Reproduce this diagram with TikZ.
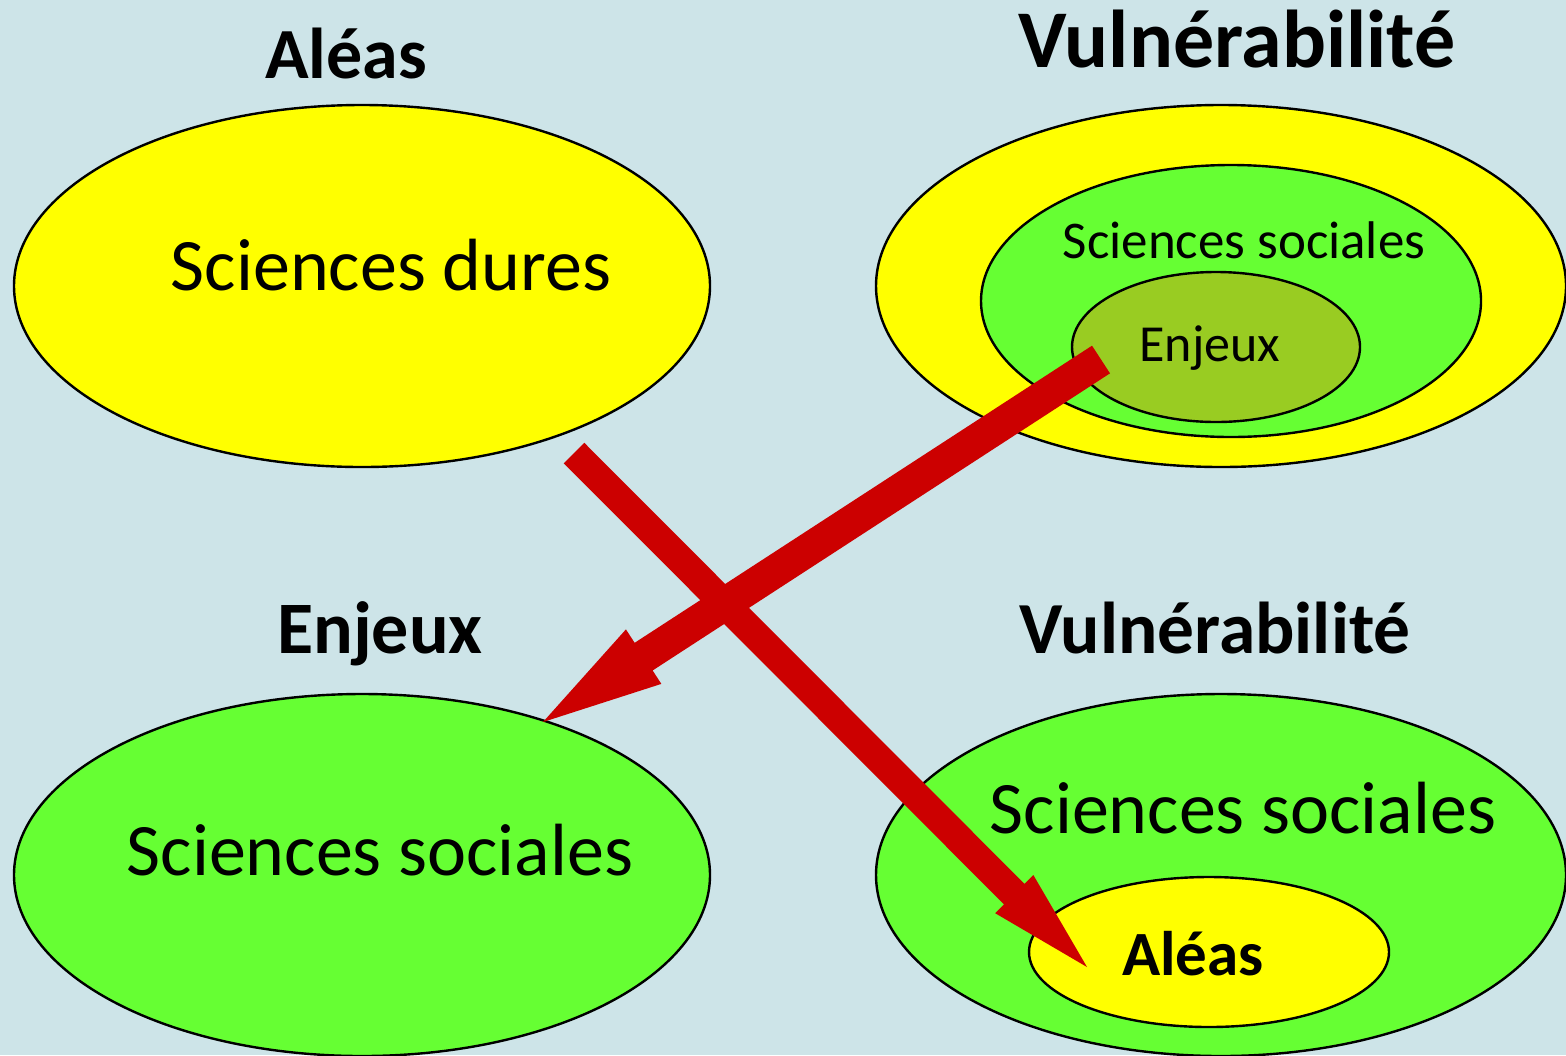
\documentclass[tikz,border=0pt]{standalone}
\usepackage{fontspec}
\setmainfont{Carlito}
\usetikzlibrary{shapes.geometric,calc}
\definecolor{bgc}{RGB}{205,228,232}
\definecolor{yel}{RGB}{255,255,0}
\definecolor{grn}{RGB}{102,255,51}
\definecolor{oli}{RGB}{153,204,34}
\definecolor{arr}{RGB}{204,0,0}
\tikzset{
  ell/.style={ellipse, draw=black, line width=1.2pt, inner sep=0pt},
  lbl/.style={anchor=base, inner sep=0pt, text=black},
}
\newcommand{\fsz}[1]{\fontsize{#1}{#1}\selectfont}
\begin{document}
\begin{tikzpicture}[x=0.5pt,y=-0.5pt]
\fill[bgc] (0,0) rectangle (1566,1055);
\useasboundingbox (0,0) rectangle (1566,1055);
% ellipses
\node[ell, fill=yel, minimum width=348pt, minimum height=181pt] (tl) at (362,286) {};
\node[ell, fill=yel, minimum width=345pt, minimum height=181pt] (tr) at (1221,286) {};
\node[ell, fill=grn, minimum width=250pt, minimum height=136pt] (trg) at (1231,301) {};
\node[ell, fill=oli, minimum width=144pt, minimum height=75pt] (tre) at (1216,347) {};
\node[ell, fill=grn, minimum width=348pt, minimum height=181pt] (bl) at (362,875) {};
\node[ell, fill=grn, minimum width=345pt, minimum height=181pt] (br) at (1221,875) {};
\node[ell, fill=yel, minimum width=180pt, minimum height=75pt] (bra) at (1209,952) {};
% labels
\node[lbl, font=\fsz{36}\bfseries] (t1) at (346,78) {Aléas};
\node[lbl, font=\fsz{41}\bfseries] (t2) at (1237,67) {Vulnérabilité};
\node[lbl, font=\fsz{37}] (t3) at (391,290) {Sciences dures};
\node[lbl, font=\fsz{26.5}] (t4) at (1244,258) {Sciences sociales};
\node[lbl, font=\fsz{26}] (t5) at (1210,361) {Enjeux};
\node[lbl, font=\fsz{37}\bfseries] (t6) at (380,653) {Enjeux};
\node[lbl, font=\fsz{36.7}\bfseries] (t7) at (1215,653) {Vulnérabilité};
\node[lbl, font=\fsz{37}] (t8) at (380,875) {Sciences sociales};
\node[lbl, font=\fsz{37}] (t9) at (1243,833) {Sciences sociales};
\node[lbl, font=\fsz{31.5}\bfseries] (t10) at (1193,975) {Aléas};
% arrows
\coordinate (a1s) at (1101,359.5);
\coordinate (a1t) at (543,722);
\coordinate (a2s) at (574,453);
\coordinate (a2t) at (1087,967);
\newcommand{\blockarrow}[5]{% start, tip, half shaft, half head, head length
  \coordinate (H) at ($(#2)!#5!(#1)$);
  \fill[arr] ($(#1)!#3!90:(#2)$) -- ($(H)!#3!90:(#2)$) -- ($(H)!#4!90:(#2)$) -- (#2)
    -- ($(H)!#4!-90:(#2)$) -- ($(H)!#3!-90:(#2)$) -- ($(#1)!#3!-90:(#2)$) -- cycle;
}
\blockarrow{a2s}{a2t}{7.25pt}{13.5pt}{51.5pt}
\blockarrow{a1s}{a1t}{8.25pt}{16.25pt}{60pt}
\end{tikzpicture}
\end{document}
